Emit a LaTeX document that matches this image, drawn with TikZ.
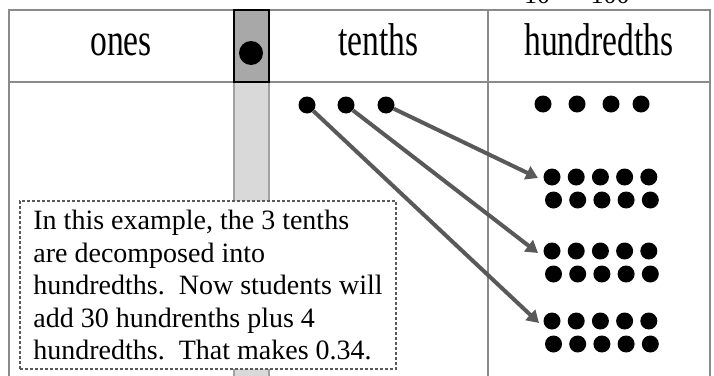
\documentclass[tikz,border=0pt]{standalone}
\usepackage{fontspec}
\setmainfont{Liberation Serif}
\newfontfamily\headfont[FakeStretch=0.73]{Liberation Serif}
\usetikzlibrary{positioning,arrows.meta}
\definecolor{ruleGray}{HTML}{8A8A8A}
\definecolor{pointGray}{HTML}{A8A8A8}
\definecolor{stripGray}{HTML}{D9D9D9}
\definecolor{arrowGray}{HTML}{595959}

\begin{document}
\begin{tikzpicture}[x=1pt,y=-1pt,
    rule/.style={draw=ruleGray,line width=1.4pt},
    dot/.style={circle,fill=black,inner sep=0pt,minimum size=17pt},
    head/.style={anchor=base,font=\headfont\fontsize{46}{46}\selectfont},
    move/.style={draw=arrowGray,line width=4pt,-{Triangle[length=12pt,width=14pt]}}]
    \useasboundingbox (0,0) rectangle (714,375);
    % cut-off fraction above the chart
    \node[anchor=base,font=\fontsize{26}{26}\selectfont] (tenfrag) at (537,3) {10};
    \node[anchor=base,font=\fontsize{26}{26}\selectfont] (hundfrag) at (610,3) {100};
    % place value chart
    \fill[stripGray] (234,82) rectangle (269,380);
    \draw[draw=ruleGray!80,line width=1.2pt] (234,82) -- (234,380) (269,82) -- (269,380);
    \draw[rule] (9,380) -- (9,10) -- (710,10) -- (710,380);
    \draw[rule] (9,82) -- (710,82);
    \draw[rule] (488,10) -- (488,380);
    \node[draw=black,fill=pointGray,line width=1.5pt,minimum width=35pt,minimum height=72pt,inner sep=0pt] (point) at (251.5,46) {};
    \node[circle,fill=black,inner sep=0pt,minimum size=24pt] (pointdot) at (251,53) {};
    \node[head] (ones) at (121,55) {ones};
    \node[head] (tenths) at (378.5,55) {tenths};
    \node[head] (hundredths) at (599,55) {hundredths};
    % tenths and hundredths
    \node[dot] (t1) at (307,105) {};
    \node[dot] (t2) at (346,105) {};
    \node[dot] (t3) at (386,105) {};
    \foreach \x [count=\i] in {543,577,611,641}
      \node[dot] (h\i) at (\x,104) {};
    \foreach \g/\y in {1/177,2/251,3/321}
      \foreach \c in {0,...,4} {
        \node[dot] (g\g a\c) at (552+24.2*\c,\y) {};
        \node[dot] (g\g b\c) at (553.5+24.2*\c,\y+23) {};
      }
    \coordinate (e1) at (538,178);
    \coordinate (e2) at (538,253);
    \coordinate (e3) at (539,323);
    \draw[move] (t3) -- (e1);
    \draw[move] (t2) -- (e2);
    \draw[move] (t1) -- (e3);
    % explanation
    \node[draw=arrowGray,fill=white,line width=1.2pt,dash pattern=on 3pt off 2pt,
      minimum width=376pt,minimum height=168pt,inner xsep=10pt,inner ysep=0pt,
      align=left,font=\fontsize{28}{32.5}\selectfont] (note) at (208,285)
      {In this example, the 3 tenths\\
       are decomposed into\\
       hundredths.\ \ Now students will\\
       add 30 hundrenths plus 4\\
       hundredths.\ \ That makes 0.34.};
\end{tikzpicture}
\end{document}
